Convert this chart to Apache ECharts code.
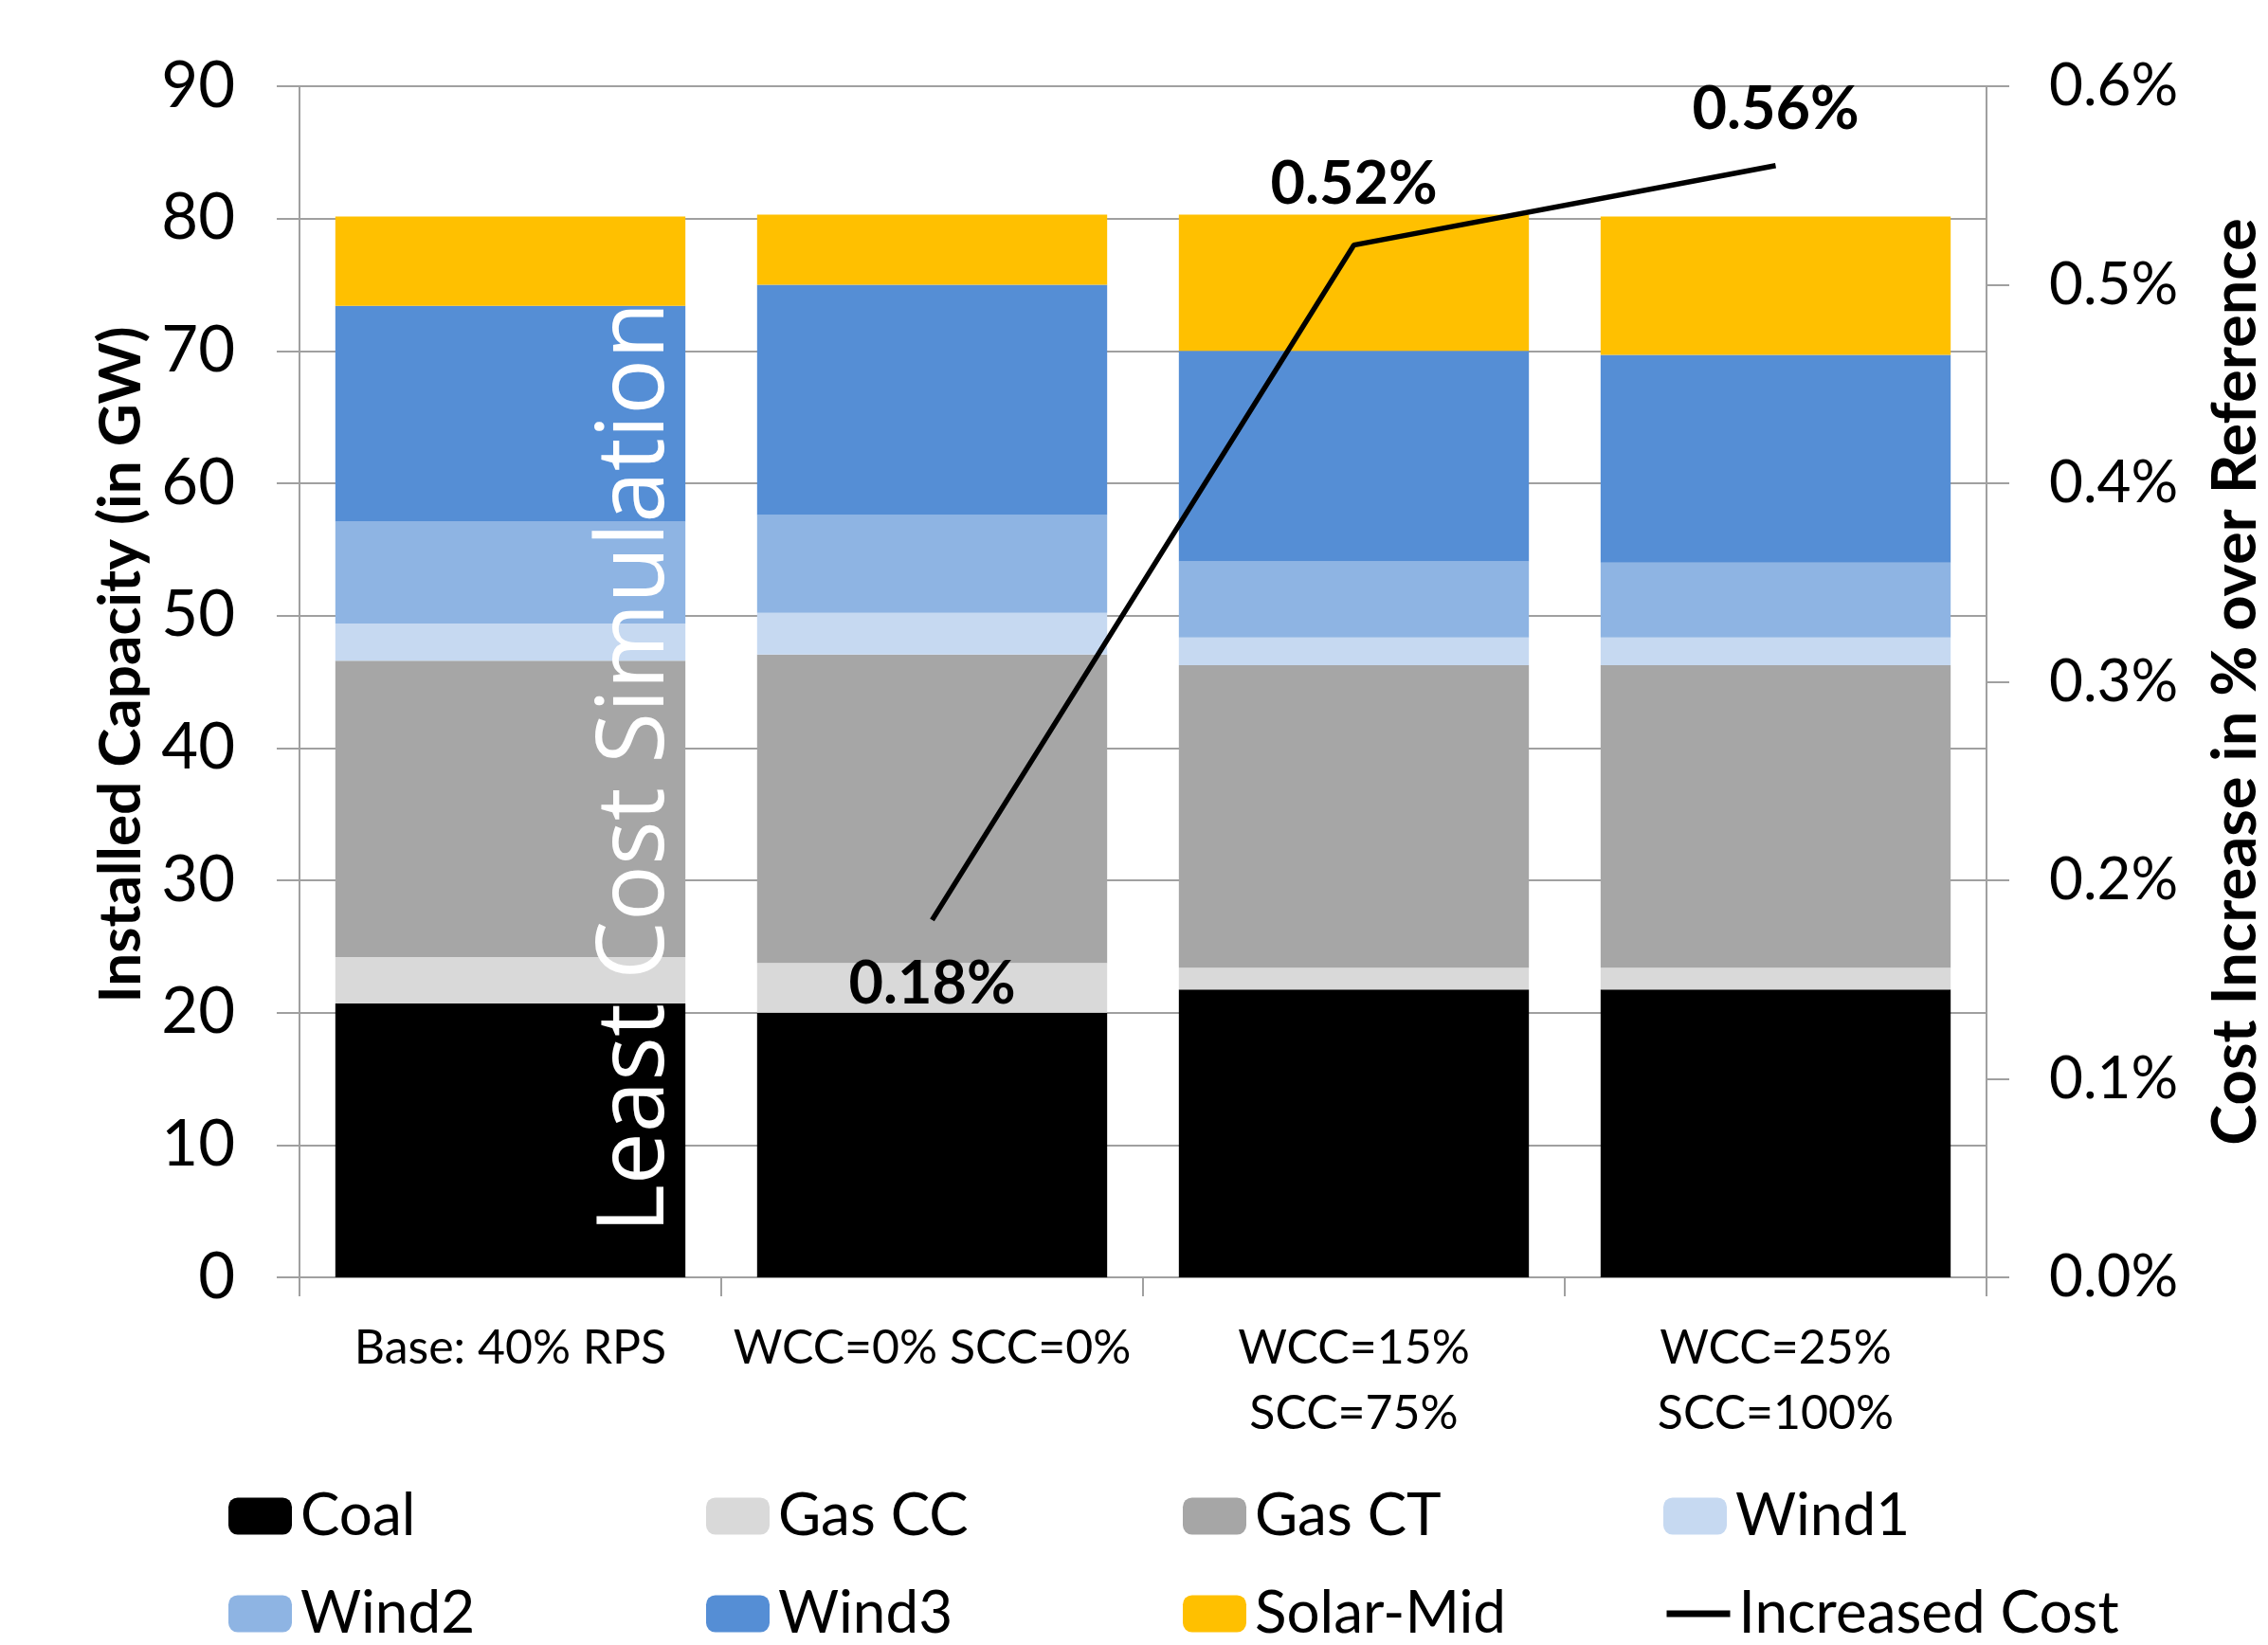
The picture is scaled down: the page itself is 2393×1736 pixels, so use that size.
<!DOCTYPE html>
<html>
<head>
<meta charset="utf-8">
<script src="https://cdn.jsdelivr.net/npm/echarts@6/dist/echarts.min.js"></script>
<style>
html,body{margin:0;padding:0;background:#fff;overflow:hidden;}
#chart{width:2393px;height:1736px;}
</style>
</head>
<body>
<div id="chart"></div>
<script>
// ---- data ----
const categories = ['Base: 40% RPS', 'WCC=0% SCC=0%', 'WCC=15%\nSCC=75%', 'WCC=25%\nSCC=100%'];
const coal     = [20.7, 20.0, 21.75, 21.75];
const gasCC    = [3.5, 3.75, 1.65, 1.65];
const gasCT    = [22.4, 23.3, 22.85, 22.85];
const wind1    = [2.8, 3.15, 2.1, 2.1];
const wind2    = [7.7, 7.4, 5.75, 5.65];
const wind3    = [16.3, 17.4, 15.9, 15.7];
const solarMid = [6.75, 5.3, 10.3, 10.45];
const increasedCost = ['-', 0.18, 0.52, 0.56];   // percent
const leftTicks  = {min: 0, max: 90, interval: 10};
const rightTicks = {min: 0, max: 0.6, interval: 0.1};
const annotationText = 'Least Cost Simulation';

const seriesNames = ['Coal', 'Gas CC', 'Gas CT', 'Wind1', 'Wind2', 'Wind3', 'Solar-Mid'];
const seriesData  = [coal, gasCC, gasCT, wind1, wind2, wind3, solarMid];
const colors = ['#000000', '#d9d9d9', '#a6a6a6', '#c6d9f1', '#8eb4e3', '#558ed5', '#ffc000'];
const lineName = 'Increased Cost';

const FONT = 'Lato, "Open Sans", sans-serif';
const GRID = '#a0a0a0';

const chart = echarts.init(document.getElementById('chart'), null, {renderer: 'canvas'});

const barSeries = seriesNames.map((n, i) => ({
  name: n,
  type: 'bar',
  stack: 'cap',
  yAxisIndex: 0,
  barCategoryGap: '17%',
  itemStyle: {color: colors[i]},
  data: seriesData[i]
}));

const labelPos = ['bottom', 'bottom', 'top', 'top'];
const labelDist = [36, 36, 32, 28];
const lineSeries = {
  name: lineName,
  type: 'line',
  yAxisIndex: 1,
  symbol: 'circle',
  symbolSize: 0,
  z: 5,
  lineStyle: {color: '#000', width: 5.5},
  itemStyle: {color: '#000'},
  label: {
    show: true,
    fontFamily: FONT,
    fontWeight: 'bold',
    fontSize: 63,
    color: '#000',
    formatter: p => p.value.toFixed(2) + '%'
  },
  data: increasedCost.map((v, i) => ({
    value: v,
    label: {position: labelPos[i], distance: labelDist[i]}
  }))
};

// legend layout: 4 columns x 2 rows
const legendNames = seriesNames.concat([lineName]);
const colX = [241, 745, 1248, 1755];
const rowTop = [1569, 1672];
const legends = legendNames.map((n, i) => ({
  data: [n === lineName
    ? {name: n, lineStyle: {width: 7, color: '#000'}, itemStyle: {opacity: 0, borderWidth: 0}}
    : n],
  left: colX[i % 4],
  top: rowTop[Math.floor(i / 4)],
  padding: 0,
  itemWidth: 67,
  itemHeight: 39,
  selectedMode: false,
  textStyle: {fontFamily: FONT, fontSize: 62, color: '#000', lineHeight: 62, padding: [0, 0, 0, 4]}
}));

chart.setOption({
  animation: false,
  backgroundColor: '#fff',
  grid: {left: 316, right: 297, top: 91, bottom: 1736 - 1348, containLabel: false, outerBoundsMode: 'none'},
  legend: legends,
  xAxis: {
    type: 'category',
    data: categories,
    boundaryGap: true,
    axisLine: {lineStyle: {color: GRID, width: 2}},
    axisTick: {show: true, length: 20, interval: 0, alignWithLabel: false, lineStyle: {color: GRID, width: 2}},
    axisLabel: {interval: 0, margin: 40, fontFamily: FONT, fontSize: 50, color: '#000', lineHeight: 69}
  },
  yAxis: [{
    type: 'value',
    min: leftTicks.min, max: leftTicks.max, interval: leftTicks.interval,
    name: 'Installed Capacity (in GW)',
    nameLocation: 'middle',
    nameGap: 153,
    nameRotate: 90,
    nameTextStyle: {fontFamily: FONT, fontWeight: 'bold', fontSize: 62, color: '#000', padding: [0, 0, 0, 36]},
    axisLine: {show: true, lineStyle: {color: GRID, width: 2}},
    axisTick: {show: true, length: 24, lineStyle: {color: GRID, width: 2}},
    splitLine: {show: true, lineStyle: {color: GRID, width: 2}},
    axisLabel: {margin: 68, fontFamily: FONT, fontSize: 67, color: '#000'}
  }, {
    type: 'value',
    min: rightTicks.min, max: rightTicks.max, interval: rightTicks.interval,
    position: 'right',
    name: 'Cost Increase in % over Reference',
    nameLocation: 'middle',
    nameGap: 231,
    nameRotate: 90,
    nameTextStyle: {fontFamily: FONT, fontWeight: 'bold', fontSize: 65, color: '#000'},
    axisLine: {show: true, lineStyle: {color: GRID, width: 2}},
    axisTick: {show: true, length: 24, lineStyle: {color: GRID, width: 2}},
    splitLine: {show: false},
    axisLabel: {margin: 66, fontFamily: FONT, fontSize: 62, color: '#000',
      formatter: v => v.toFixed(1) + '%'}
  }],
  series: barSeries.concat([lineSeries]),
  graphic: [{
    type: 'text',
    x: 672, y: 810,
    rotation: Math.PI / 2,
    z: 100,
    style: {
      text: annotationText,
      fill: '#fff',
      font: '98px "Open Sans", sans-serif',
      align: 'center',
      verticalAlign: 'middle'
    }
  }]
});
</script>
</body>
</html>
